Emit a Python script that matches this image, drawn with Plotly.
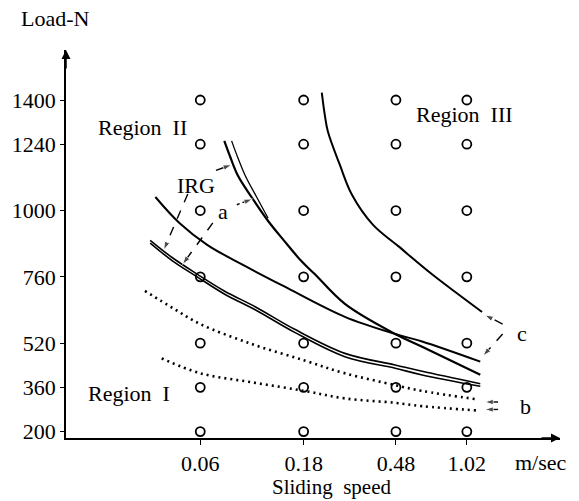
import plotly.graph_objects as go

# ---- data ----
speeds = [0.06, 0.18, 0.48, 1.02]
speed_labels = ["0.06", "0.18", "0.48", "1.02"]
loads = [200, 360, 520, 760, 1000, 1240, 1400]
load_labels = ["200", "360", "520", "760", "1000", "1240", "1400"]

# Region III boundary
r3_x = [0.2183, 0.2253, 0.2327, 0.2646, 0.3008, 0.3764, 0.4905, 0.6974, 0.9275, 1.199]
r3_y = [1427, 1347, 1287, 1165, 1057, 948, 872, 772, 698, 633]
# curve a (double line at top)
a1_x = [0.07745, 0.08279, 0.08946, 0.1034, 0.1234, 0.1458, 0.1761, 0.2025, 0.2791, 0.4764, 0.6342, 1.1766]
a1_y = [1252, 1191, 1127, 1049, 962, 892, 816, 770, 662, 553, 507, 406]
a2_x = [0.08371, 0.08946, 0.09669, 0.1092, 0.1234]
a2_y = [1252, 1191, 1127, 1049, 972]
# single solid curve
b_x = [0.03724, 0.04806, 0.06483, 0.0935, 0.1458, 0.2791, 0.4764, 0.6342, 1.1766]
b_y = [1049, 955, 875, 805, 726, 615, 553, 526, 453]
# lower double curve
c_x = [0.03523, 0.04446, 0.05803, 0.07745, 0.1080, 0.1628, 0.2791, 0.4764, 0.6342, 1.1766]
c1_y = [892, 830, 770, 709, 651, 571, 483, 441, 418, 373]
c2_y = [882, 819, 760, 698, 640, 560, 471, 429, 405, 364]
# dotted curves (b)
d1_x = [0.03333, 0.04546, 0.06, 0.1045, 0.1819, 0.2791, 0.4764, 0.6342, 1.154]
d1_y = [709, 644, 589, 516, 457, 411, 368, 347, 316]
d2_x = [0.03981, 0.06, 0.1045, 0.1819, 0.2791, 0.4764, 0.6342, 1.154]
d2_y = [465, 411, 378, 347, 320, 304, 292, 276]

# leader lines (tail -> head)
leaders = {
    "irg_a": ([0.07088, 0.08371], [1145, 1166], "dash"),
    "irg_c": ([0.05253, 0.04070], [1060, 857], "dash"),
    "a_a": ([0.08849, 0.1045], [1021, 1042], "dot"),
    "a_c": ([0.06855, 0.04968], [955, 805], "dash"),
    "c_r3": ([1.492, 1.234], [589, 622], "dash"),
    "c_b": ([1.492, 1.211], [553, 474], "dash"),
    "b_1": ([1.422, 1.234], [307, 307], "solid"),
    "b_2": ([1.422, 1.234], [280, 280], "solid"),
}

FONT = "Liberation Serif, Times New Roman, serif"
FS = 22
fig = go.Figure()

# grid circles
gx = [s for s in speeds for _ in loads]
gy = [l for _ in speeds for l in loads]
fig.add_trace(go.Scatter(x=gx, y=gy, mode="markers",
                         marker=dict(symbol="circle-open", size=9, color="black",
                                     line=dict(width=1.8, color="black")),
                         hoverinfo="skip"))

def curve(x, y, width=2.0, dash="solid"):
    fig.add_trace(go.Scatter(x=x, y=y, mode="lines",
                             line=dict(color="black", width=width, dash=dash,
                                       shape="spline", smoothing=1.0),
                             hoverinfo="skip"))

curve(r3_x, r3_y, 2.0)
curve(a1_x, a1_y, 2.2)
curve(a2_x, a2_y, 1.3)
curve(b_x, b_y, 2.0)
curve(c_x, c1_y, 1.6)
curve(c_x, c2_y, 1.6)
curve(d1_x, d1_y, 2.6, "2px,4px")
curve(d2_x, d2_y, 2.6, "2px,4px")

for name, (lx, ly, dash) in leaders.items():
    fig.add_trace(go.Scatter(x=lx, y=ly, mode="lines+markers",
                             line=dict(color="black", width=1.4, dash=dash),
                             marker=dict(symbol="arrow", angleref="previous",
                                         size=[0, 9], color="black"),
                             hoverinfo="skip"))

# plot area geometry (pixels)
L, T, W, H = 62, 50, 498, 388
def px(xp):
    return (xp - L) / W
def py(yp):
    return (T + H - yp) / H

texts = [
    ("Load-N", 15, 18, "left", FS),
    ("Region  II", 92, 128, "left", FS),
    ("Region  III", 413, 115, "left", FS),
    ("Region  I", 82, 393, "left", FS),
    ("IRG", 193, 185, "center", FS),
    ("a", 220, 212, "center", FS),
    ("c", 522, 333, "center", FS),
    ("b", 525, 406, "center", FS),
    ("m/sec", 541, 462, "center", FS),
    ("Sliding  speed", 330, 487, "center", 21),
]
annotations = []
for t, xp, yp, anc, fs in texts:
    annotations.append(dict(text=t, x=px(xp), y=py(yp), xref="paper", yref="paper",
                            xanchor=anc, yanchor="middle", showarrow=False,
                            font=dict(family=FONT, size=fs, color="black")))
# axis arrowheads
annotations.append(dict(x=0, y=1, xref="paper", yref="paper", ax=0, ay=20,
                        showarrow=True, arrowhead=2, arrowsize=1.2, arrowwidth=1.5,
                        arrowcolor="black", text=""))
annotations.append(dict(x=1, y=0, xref="paper", yref="paper", ax=-20, ay=0,
                        showarrow=True, arrowhead=2, arrowsize=1.2, arrowwidth=1.5,
                        arrowcolor="black", text=""))

fig.update_layout(
    width=579, height=501,
    margin=dict(l=L, r=579 - L - W, t=T, b=501 - T - H),
    paper_bgcolor="white", plot_bgcolor="white",
    showlegend=False,
    font=dict(family=FONT, size=FS, color="black"),
    annotations=annotations,
)
fig.update_xaxes(type="log", range=[-1.8416, 0.4386],
                 tickvals=speeds, ticktext=speed_labels,
                 showgrid=False, zeroline=False, showline=True,
                 linecolor="black", linewidth=1.5,
                 ticks="outside", ticklen=5, tickwidth=1.3, tickcolor="black",
                 tickfont=dict(family=FONT, size=FS))
fig.update_yaxes(range=[176.7, 1581],
                 tickvals=loads, ticktext=load_labels,
                 showgrid=False, zeroline=False, showline=True,
                 linecolor="black", linewidth=1.5,
                 ticks="outside", ticklen=4, tickwidth=1.3, tickcolor="black",
                 tickfont=dict(family=FONT, size=FS))

fig.write_html("out.html")
